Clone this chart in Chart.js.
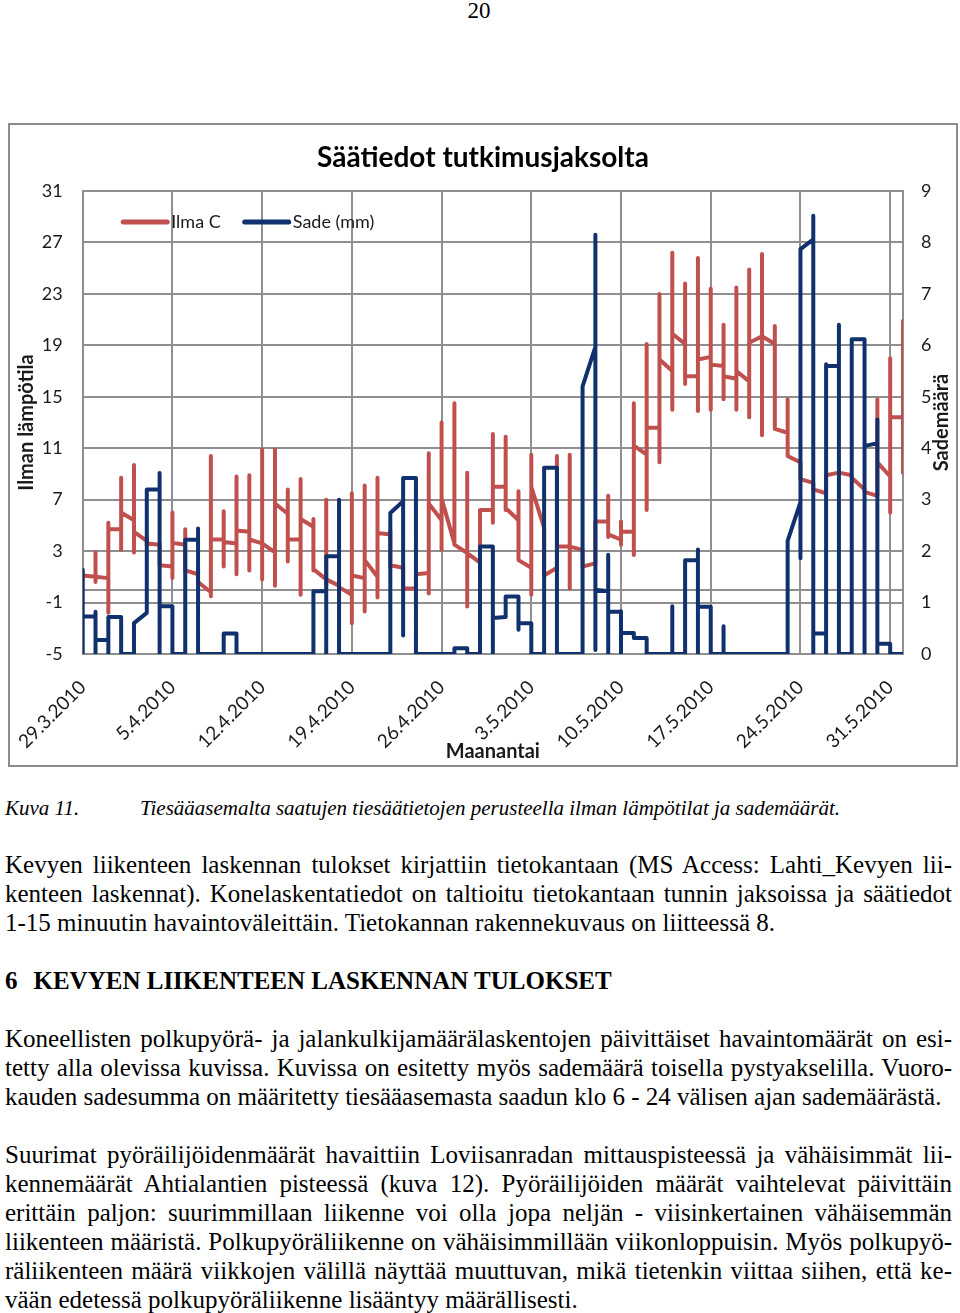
<!DOCTYPE html>
<html lang="fi">
<head>
<meta charset="utf-8">
<title>Säätiedot tutkimusjaksolta</title>
<script src="https://cdn.jsdelivr.net/npm/chart.js@4.4.1/dist/chart.umd.min.js"></script>
<style>
    html, body {
        margin: 0;
        padding: 0;
        background: #fff;
    }

    body {
        width: 960px;
        height: 1313px;
        position: relative;
        overflow: hidden;
        font-family: "Liberation Serif", "Times New Roman", serif;
        color: #000;
    }

    .sivunro {
        position: absolute;
        left: 0;
        width: 958px;
        top: -2px;
        text-align: center;
        font-size: 23px;
        line-height: 26px;
    }

    #kaavio {
        position: absolute;
        left: 8px;
        top: 123px;
        width: 950px;
        height: 644px;
        border: 2px solid #8c8c8c;
        box-sizing: border-box;
    }

    .kuvateksti {
        position: absolute;
        top: 794px;
        left: 5px;
        width: 950px;
        font-style: italic;
        font-size: 21px;
        line-height: 29px;
    }

    .kuvateksti span {
        position: absolute;
        left: 135px;
        white-space: nowrap;
    }

    .kappale {
        position: absolute;
        left: 5px;
        width: 947px;
        font-size: 25px;
        line-height: 29px;
    }

    .kappale div {
        white-space: nowrap;
        text-align: justify;
        text-align-last: justify;
    }

    .kappale div.viim {
        text-align: left;
        text-align-last: left;
    }

    .otsikko {
        position: absolute;
        left: 5px;
        top: 966px;
        font-size: 25px;
        line-height: 29px;
        font-weight: bold;
        white-space: nowrap;
    }
</style>
</head>
<body>

<div class="sivunro">20</div>

<div id="kaavio">
    <canvas id="saaKaavio"></canvas>
</div>

<div class="kuvateksti">Kuva 11.<span>Tiesääasemalta saatujen tiesäätietojen perusteella ilman lämpötilat ja sademäärät.</span></div>

<div class="kappale" style="top: 850px;">
    <div>Kevyen liikenteen laskennan tulokset kirjattiin tietokantaan (MS Access: Lahti_Kevyen lii-</div>
    <div>kenteen laskennat). Konelaskentatiedot on taltioitu tietokantaan tunnin jaksoissa ja säätiedot</div>
    <div class="viim">1-15 minuutin havaintoväleittäin. Tietokannan rakennekuvaus on liitteessä 8.</div>
</div>

<div class="otsikko">6<span style="margin-left: 16px;">KEVYEN LIIKENTEEN LASKENNAN TULOKSET</span></div>

<div class="kappale" style="top: 1024px;">
    <div>Koneellisten polkupyörä- ja jalankulkijamäärälaskentojen päivittäiset havaintomäärät on esi-</div>
    <div>tetty alla olevissa kuvissa. Kuvissa on esitetty myös sademäärä toisella pystyakselilla. Vuoro-</div>
    <div class="viim">kauden sadesumma on määritetty tiesääasemasta saadun klo 6 - 24 välisen ajan sademäärästä.</div>
</div>

<div class="kappale" style="top: 1140px;">
    <div>Suurimat pyöräilijöidenmäärät havaittiin Loviisanradan mittauspisteessä ja vähäisimmät lii-</div>
    <div>kennemäärät Ahtialantien pisteessä (kuva 12). Pyöräilijöiden määrät vaihtelevat päivittäin</div>
    <div>erittäin paljon: suurimmillaan liikenne voi olla jopa neljän - viisinkertainen vähäisemmän</div>
    <div>liikenteen määristä. Polkupyöräliikenne on vähäisimmillään viikonloppuisin. Myös polkupyö-</div>
    <div>räliikenteen määrä viikkojen välillä näyttää muuttuvan, mikä tietenkin viittaa siihen, että ke-</div>
    <div class="viim">vään edetessä polkupyöräliikenne lisääntyy määrällisesti.</div>
</div>

<script>
/* =========================
   AKSELIT
========================= */
const maanantait = [
    "29.3.2010", "5.4.2010", "12.4.2010", "19.4.2010", "26.4.2010",
    "3.5.2010", "10.5.2010", "17.5.2010", "24.5.2010", "31.5.2010"
];
// paivan numero 29.3.2010 alkaen
const maanantaiPaivat = [0, 7, 14, 21, 28, 35, 42, 49, 56, 63];
const lampoTikit = [-5, -1, 3, 7, 11, 15, 19, 23, 27, 31];
const sadeTikit = [0, 1, 2, 3, 4, 5, 6, 7, 8, 9];

/* =========================
   ILMA C (paivittain: alku, min, max, loppu)
   29.3.2010 - 1.6.2010
========================= */
const ilmaAlku = [
    1.0, 1.0, 0.9, 4.7, 5.4, 3.8, 3.5, 1.8, 3.5, 1.2,
    -0.2, 3.9, 3.6, 4.5, 3.6, 2.9, 5.9, 3.9, 4.9, 0.8,
    0.3, -0.4, 0.9, 1.0, 4.3, 1.7, 0.1, 1.3, 5.4, 3.6,
    2.85, 2.1, 6.2, 8.0, 5.4, 1.7, 4.8, 1.7, 3.35, 3.1,
    2.05, 5.3, 3.9, 4.5, 10.5, 12.6, 17.0, 19.1, 16.6, 18.1,
    17.4, 16.4, 16.2, 19.7, 19.1, 12.2, 9.9, 8.3, 7.5, 9.1,
    8.9, 7.8, 7.3, 8.8, 13.4
];
const ilmaMin = [
    0.8, 0.6, -1.8, 3.1, 2.9, 3.4, 1.9, 0.9, 1.4, 0.5,
    -0.5, 1.8, 1.2, 1.5, 0.8, 0.3, 2.2, -0.4, 1.5, 0.3,
    -0.4, -2.6, -1.7, -0.6, 1.8, 0.0, 0.1, -0.3, 3.1, 3.5,
    -1.3, 2.1, 5.2, 6.2, 2.3, -0.4, 1.1, 1.5, 0.1, 1.8,
    2.05, 4.1, 3.5, 2.7, 6.2, 9.9, 14.0, 16.0, 13.9, 14.0,
    14.8, 14.0, 13.4, 12.0, 12.5, 10.4, 8.6, 7.8, 7.5, 9.0,
    8.7, 7.6, 7.3, 6.0, 9.1
];
const ilmaMax = [
    1.3, 2.9, 5.2, 8.7, 9.7, 4.1, 3.6, 6.0, 4.7, 1.3,
    10.4, 6.1, 8.8, 8.9, 10.9, 10.9, 7.8, 8.6, 5.5, 7.0,
    0.8, 7.5, 8.1, 8.7, 4.6, 1.8, 1.3, 10.6, 13.0, 14.5,
    9.1, 6.2, 12.1, 11.9, 7.65, 10.5, 4.8, 10.4, 10.5, 3.1,
    5.3, 7.3, 5.3, 14.5, 19.1, 23.0, 26.2, 23.8, 25.8, 23.4,
    20.6, 23.5, 24.9, 26.1, 20.5, 14.8, 9.9, 8.3, 8.9, 9.2,
    8.9, 7.8, 14.8, 18.0, 20.9
];
const ilmaLoppu = [
    1.1, 1.0, 4.7, 6.0, 4.5, 3.6, 1.9, 3.65, 1.5, 0.6,
    3.9, 3.7, 4.6, 3.9, 3.6, 6.7, 3.9, 5.5, 1.6, 0.8,
    0.2, 1.1, 2.3, 4.4, 1.9, 0.1, 1.2, 6.7, 7.1, 3.5,
    2.85, 6.2, 8.0, 6.35, 2.3, 8.0, 1.1, 3.35, 3.35, 1.8,
    5.3, 4.3, 4.5, 11.2, 12.6, 17.9, 19.9, 16.6, 17.9, 17.5,
    16.6, 17.0, 19.2, 19.7, 12.5, 10.4, 8.6, 7.8, 8.9, 9.1,
    8.7, 7.6, 9.9, 13.4, 13.4
];

/* =========================
   SADE (MM) (paivittain: alku, min, max, loppu)
========================= */
const sadeAlku = [
    0, 0.73, 0.27, 0.72, 0, 0.8, 3.2, 0.93, 0, 2.22,
    0, 0, 0.4, 0, 0, 0, 0, 0, 0, 1.22,
    1.9, 0, 0, 0, 0, 2.97, 3.42, 0, 0, 0,
    0.11, 0, 2.09, 0.72, 1.12, 0.6, 0, 3.62, 0, 0,
    5.97, 1.22, 0.82, 0.41, 0.31, 0, 0, 0, 1.82, 0.92,
    0, 0, 0, 0, 0, 0, 2.95, 8.06, 0.4, 5.6,
    0, 6.12, 4.1, 0.2, 0
];
const sadeMin = [
    0, 0, 0, 0, 0, 0.8, 0, 0, 0, 0,
    0, 0, 0, 0, 0, 0, 0, 0, 0, 0,
    0, 0, 0, 0, 0, 0.36, 0, 0, 0, 0,
    0, 0, 0, 0.72, 0.47, 0, 0, 0, 0, 0,
    0.08, 0, 0, 0.31, 0, 0, 0, 0, 0, 0,
    0, 0, 0, 0, 0, 0, 1.86, 0, 0, 0,
    0, 0, 0, 0, 0
];
const sadeMax = [
    1.64, 0.82, 0.72, 0.72, 0.6, 3.2, 3.52, 0.93, 2.22, 2.44,
    0, 0.4, 0.4, 0, 0, 0, 0, 0, 1.22, 1.9,
    3.0, 0, 0, 0, 2.74, 3.42, 3.42, 0, 0, 0.11,
    0.11, 2.09, 2.09, 1.12, 1.12, 0.6, 3.62, 3.62, 0, 5.2,
    8.15, 1.93, 0.83, 0.41, 0.31, 0, 0.93, 1.82, 2.03, 0.92,
    0.54, 0, 0, 0, 0, 2.2, 7.87, 8.52, 5.63, 6.4,
    6.12, 6.12, 4.56, 0.2, 0
];
const sadeLoppu = [
    0.73, 0.27, 0.72, 0, 0.6, 3.2, 0.93, 0, 2.22, 0,
    0, 0.4, 0, 0, 0, 0, 0, 0, 1.22, 1.9,
    0, 0, 0, 0, 2.74, 3.42, 0, 0, 0, 0.11,
    0, 2.09, 0.7, 1.12, 0.6, 0, 3.62, 0, 0, 5.2,
    1.25, 0.82, 0.41, 0.31, 0, 0, 0, 1.82, 0.92, 0,
    0, 0, 0, 0, 0, 2.2, 7.87, 0.4, 5.6, 0,
    6.12, 4.04, 0.2, 0, 0
];

/* =========================
   VARIT
========================= */
const PUNAINEN = "#C0504D";
const SININEN = "#10306E";
const RUUDUKKO = "#8f8f8f";
const TEKSTI = "#1a1a1a";

Chart.defaults.font.family = "Lato, 'Open Sans', sans-serif";
Chart.defaults.color = TEKSTI;

/* =========================
   PISTEET: kaikki paivan havainnot samaan x-kohtaan
========================= */
function paivaPisteet(alku, ala, yla, loppu) {
    const pisteet = [];

    for (let i = 0; i < alku.length; i++) {
        pisteet.push(
            { x: i, y: alku[i] },
            { x: i, y: ala[i] },
            { x: i, y: yla[i] },
            { x: i, y: loppu[i] }
        );
    }

    return pisteet;
}

/* =========================
   SELITE + OIKEAN AKSELIN OTSIKKO
========================= */
const kaavioTekstit = {
    id: "kaavioTekstit",
    afterDraw(chart) {
        const { ctx, chartArea } = chart;

        ctx.save();
        ctx.font = "18px Lato";
        ctx.textBaseline = "middle";
        ctx.lineCap = "round";

        let x = chartArea.left + 40.5;
        const y = chartArea.top + 31;

        chart.data.datasets.forEach(ds => {
            ctx.strokeStyle = ds.borderColor;
            ctx.lineWidth = 5;
            ctx.beginPath();
            ctx.moveTo(x, y);
            ctx.lineTo(x + 44, y);
            ctx.stroke();

            ctx.fillStyle = TEKSTI;
            ctx.fillText(ds.label, x + 48, y);

            x += 48 + ctx.measureText(ds.label).width + 24;
        });

        ctx.font = "bold 20px Lato";
        ctx.textAlign = "center";
        ctx.translate(chart.width - 14, (chartArea.top + chartArea.bottom) / 2);
        ctx.rotate(-Math.PI / 2);
        ctx.fillText("Sademäärä", 0, 0);

        ctx.restore();
    }
};

/* =========================
   KAAVIO
========================= */
const ctx = document.getElementById("saaKaavio").getContext("2d");

new Chart(ctx, {
    type: "line",
    data: {
        datasets: [
            {
                label: "Ilma C",
                data: paivaPisteet(ilmaAlku, ilmaMin, ilmaMax, ilmaLoppu),
                yAxisID: "y",
                borderColor: PUNAINEN,
                borderWidth: 4,
                pointRadius: 0,
                tension: 0,
                borderJoinStyle: "round",
                borderCapStyle: "round",
                order: 2
            },
            {
                label: "Sade (mm)",
                data: paivaPisteet(sadeAlku, sadeMin, sadeMax, sadeLoppu),
                yAxisID: "y2",
                borderColor: SININEN,
                borderWidth: 4,
                pointRadius: 0,
                tension: 0,
                borderJoinStyle: "round",
                borderCapStyle: "round",
                order: 1
            }
        ]
    },
    options: {
        responsive: true,
        maintainAspectRatio: false,
        animation: false,
        events: [],
        layout: {
            padding: 0
        },
        plugins: {
            legend: {
                display: false
            },
            tooltip: {
                enabled: false
            },
            title: {
                display: true,
                text: "Säätiedot tutkimusjaksolta",
                color: "#000",
                font: {
                    size: 28,
                    weight: "bold"
                },
                padding: {
                    top: 16.2,
                    bottom: 16.2
                }
            }
        },
        scales: {
            x: {
                type: "linear",
                min: 0,
                max: 64,
                afterBuildTicks: scale => {
                    scale.ticks = maanantaiPaivat.map(v => ({ value: v }));
                },
                afterFit: scale => {
                    scale.height = 111;
                    // kaantyneet nimikkeet eivat saa siirtaa piirtoaluetta
                    scale.paddingLeft = 0;
                    scale.paddingRight = 0;
                },
                ticks: {
                    autoSkip: false,
                    minRotation: 45,
                    maxRotation: 45,
                    padding: 22,
                    font: { size: 19 },
                    callback: (value, index) => maanantait[index]
                },
                grid: {
                    color: RUUDUKKO,
                    lineWidth: 2,
                    drawTicks: false
                },
                border: {
                    color: RUUDUKKO,
                    width: 2
                },
                title: {
                    display: true,
                    text: "Maanantai",
                    font: {
                        size: 20,
                        weight: "bold"
                    },
                    padding: {
                        top: 0,
                        bottom: 1
                    }
                }
            },
            y: {
                position: "left",
                min: -5,
                max: 31,
                afterBuildTicks: scale => {
                    // nollan kohdalle vaaka-akselin viiva
                    const arvot = lampoTikit.concat([0]).sort((a, b) => a - b);
                    scale.ticks = arvot.map(v => ({ value: v }));
                },
                afterFit: scale => {
                    scale.width = 72.7;
                },
                ticks: {
                    autoSkip: false,
                    padding: 20,
                    font: { size: 18 },
                    callback: value => (lampoTikit.includes(value) ? String(value) : "")
                },
                grid: {
                    color: RUUDUKKO,
                    lineWidth: 2,
                    drawTicks: false
                },
                border: {
                    color: RUUDUKKO,
                    width: 2
                },
                title: {
                    display: true,
                    text: "Ilman lämpötila",
                    font: {
                        size: 20,
                        weight: "bold"
                    },
                    padding: {
                        top: 5,
                        bottom: 0
                    }
                }
            },
            y2: {
                position: "right",
                min: 0,
                max: 9,
                afterBuildTicks: scale => {
                    scale.ticks = sadeTikit.map(v => ({ value: v }));
                },
                afterFit: scale => {
                    scale.width = 53;
                },
                ticks: {
                    autoSkip: false,
                    padding: 18,
                    font: { size: 18 }
                },
                grid: {
                    drawOnChartArea: false,
                    drawTicks: false
                },
                border: {
                    color: RUUDUKKO,
                    width: 2
                }
            }
        }
    },
    plugins: [kaavioTekstit]
});
</script>
</body>
</html>
